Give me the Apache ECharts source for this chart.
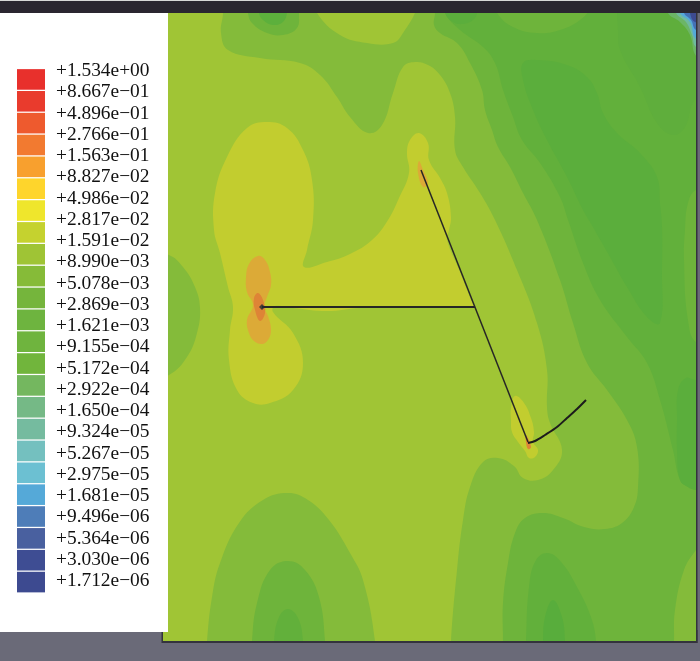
<!DOCTYPE html>
<html><head><meta charset="utf-8">
<style>html,body{margin:0;padding:0;background:#6a6a78}#c{width:700px;height:661px}</style>
<script src="https://cdn.jsdelivr.net/npm/echarts@6/dist/echarts.min.js"></script>
</head><body><div id="c"></div>
<script>
const legendLabels = ['+1.534e+00','+8.667e\u221201','+4.896e\u221201','+2.766e\u221201','+1.563e\u221201','+8.827e\u221202','+4.986e\u221202','+2.817e\u221202','+1.591e\u221202','+8.990e\u221203','+5.078e\u221203','+2.869e\u221203','+1.621e\u221203','+9.155e\u221204','+5.172e\u221204','+2.922e\u221204','+1.650e\u221204','+9.324e\u221205','+5.267e\u221205','+2.975e\u221205','+1.681e\u221205','+9.496e\u221206','+5.364e\u221206','+3.030e\u221206','+1.712e\u221206'];
const legendColors = ['#e8302c','#e93b2d','#ee5a2e','#f27a30','#f8a02e','#fed52c','#efe62c','#c5d22f','#9fc435','#86bb38','#75b53c','#6eb43f','#6fb43e','#71b53c','#74b75f','#75b986','#75bb9f','#74c0bf','#6cc0d2','#55a9d8','#4e7db8','#49609f','#3e4d93','#3d4a90'];

const C9='#a0c535', C10='#84bb3a', C11='#6eb43b', C12='#62b03b', C13='#5bae3c';
const CY='#c2cd2f', CO='#dcaa37', CR='#de8436';

const base = [[100,-100],[800,-100],[800,800],[100,800]];
const band10Main = [[222,-10],[223,13],[221,33],[228,50],[260,58],[300,63],[320,75],[337,97],[350,117],[368,133],[382,125],[393,93],[403,67],[415,62],[428,65],[440,75],[450,93],[455,117],[455,150],[463,167],[480,193],[495,220],[517,270],[537,323],[547,370],[547,407],[550,423],[562,450],[553,470],[538,480],[523,478],[514,466],[498,458],[483,462],[470,487],[463,520],[457,570],[451,641],[450,680],[760,700],[760,-60]];
const topBay = [[313,-5],[317,13],[340,35],[367,43],[393,43],[403,33],[417,8],[420,-10]];
const band10Left = [[120,240],[169,255],[183,267],[195,287],[200,308],[197,333],[187,357],[169,375],[120,395]];
const band10Bottom = [[205,680],[207,641],[212,597],[220,563],[239,523],[263,500],[288,493],[308,500],[329,520],[350,553],[363,580],[375,641],[376,680]];
const band11Main = [[434,-10],[435,13],[434,25],[440,33],[457,43],[470,63],[482,90],[485,110],[492,130],[498,147],[510,167],[523,193],[537,220],[560,280],[573,323],[587,363],[607,390],[627,420],[637,447],[638,487],[634,507],[622,523],[605,529],[584,527],[563,518],[543,513],[525,518],[515,533],[508,563],[503,603],[503,641],[503,680],[760,700],[760,-60]];
const band11Top = [[247,-5],[248,13],[252,23],[267,33],[283,35],[297,28],[299,13],[299,-5]];
const band11Bottom = [[251,680],[252,641],[257,603],[270,570],[288,561],[305,570],[319,597],[325,641],[326,680]];
const band12Main = [[440,-10],[445,13],[460,30],[483,47],[495,63],[503,90],[513,117],[522,140],[540,163],[560,197],[568,220],[583,263],[600,300],[627,337],[647,363],[660,400],[673,450],[680,480],[688,487],[696,490],[740,495],[760,-60]];
const band11Bay = [[490,-5],[497,13],[513,27],[537,33],[560,30],[580,20],[590,8],[592,-8]];
const band11Right = [[740,170],[696,190],[688,203],[685,230],[684,260],[688,320],[697,343],[740,360]];
const band10Corner = [[673,680],[674,641],[675,610],[684,570],[696,550],[720,520],[760,680]];
const band12Top = [[258,-5],[259,13],[263,20],[273,25],[283,22],[287,13],[288,-5]];
const band12Bottom = [[273,680],[274,641],[279,617],[288,609],[298,618],[303,641],[304,680]];
const band12Right = [[525,680],[526,641],[529,587],[536,560],[548,553],[562,563],[577,587],[591,617],[596,641],[597,680]];
const band13Top = [[442,-5],[445,13],[453,22],[463,24],[473,20],[477,13],[478,-5]];
const band13Center = [[523,63],[537,60],[567,65],[587,77],[597,93],[603,113],[617,133],[640,153],[657,177],[660,203],[662,227],[662,270],[660,323],[647,317],[627,287],[610,257],[590,222],[583,210],[567,177],[547,140],[533,110],[523,80]];
const band13Right = [[616,-5],[617,13],[618,30],[620,50],[640,87],[657,123],[673,135],[685,127],[695,100],[740,60],[740,-5]];
const band13Edge = [[740,370],[696,380],[686,378],[678,390],[677,420],[677,450],[680,480],[688,487],[696,490],[740,495]];
const band13Bottom = [[542,680],[543,641],[545,617],[553,600],[562,617],[565,641],[566,680]];
const corner1 = [[664,-5],[668,13],[680,22],[690,35],[696,56],[720,80],[730,-20]];
const corner2 = [[673,-5],[676,13],[686,22],[692,35],[696,47],[720,60],[730,-20]];
const corner3 = [[677,-5],[680,13],[690,22],[696,39],[720,50],[730,-20]];
const corner4 = [[680,-5],[684,13],[691,20],[696,30],[720,40],[730,-20]];
const corner5 = [[688,-5],[690,13],[695,22],[720,30],[730,-20]];
const yellowMain = [[267,122],[287,128],[303,150],[312,180],[313,220],[307,250],[304,267],[327,262],[350,254],[372,240],[388,220],[399,198],[409,173],[407,153],[410,140],[419,133],[428,143],[429,160],[440,178],[447,193],[451,217],[449,230],[447,240],[460,272],[472,302],[475,307],[470,307],[400,307],[360,308],[327,311],[293,308],[275,306],[273,312],[293,333],[303,363],[293,390],[270,403],[253,403],[237,390],[229,360],[230,330],[233,307],[228,287],[220,253],[214,230],[215,193],[227,157],[247,128]];
const yellowTip = [[515,396],[524,403],[531,418],[534,432],[533,442],[538,450],[535,457],[529,458],[525,451],[518,442],[512,432],[511,420],[511,408]];
const orangeLeft = [[258,256],[265,260],[270,272],[271,285],[267,297],[264,307],[268,316],[271,330],[268,340],[262,344],[254,341],[249,333],[247,320],[253,305],[247,292],[246,278],[249,264]];
const orangeInner = [[258,293],[263,300],[265,313],[260,321],[255,310],[254,298]];
const orangeTop = [[419,161],[423,170],[428,183],[423,187],[418,173]];
const orangeTip = [[526,435],[531,447],[528,449],[526,442]];

const layers = [
  [base,C9],[band10Main,C10],[topBay,C9],[band10Left,C10],[band10Bottom,C10],
  [band11Main,C11],[band11Top,C11],[band11Bottom,C11],
  [band12Main,C12],[band11Bay,C11],[band11Right,C11],[band10Corner,C10],
  [band12Top,'#5cb03c'],[band12Bottom,C12],[band12Right,C12],
  [band13Top,C13],[band13Center,C13],[band13Right,'#5fae3c'],[band13Edge,C13],[band13Bottom,'#58ad3c'],
  [corner1,'#6cb566'],[corner2,'#6fb9a0'],[corner3,'#55a9d8'],[corner4,'#4470b4'],[corner5,'#3d4a90'],
  [yellowMain,CY],[yellowTip,CY],[orangeLeft,CO],[orangeInner,CR],[orangeTop,CO],[orangeTip,CR]
];

const crackA = [[262,307],[475,307]];
const crackB = [[421,170],[528,442]];
const crackC = [[528,443],[535,441],[545,435],[557,427],[567,418],[577,409],[586,400]];
const crackNode = [[262,307]];

const chart = echarts.init(document.getElementById('c'), null, {renderer:'canvas'});
chart.setOption({
  animation:false,
  backgroundColor:'#6a6a78',
  graphic:{elements:[
    {type:'rect',z:0,shape:{x:0,y:0,width:700,height:13},style:{fill:'#2a2630'}},
    {type:'rect',z:0,shape:{x:0,y:0,width:700,height:1},style:{fill:'#d8d8d8'}},
    {type:'rect',z:0,shape:{x:161.5,y:630,width:536,height:13},style:{fill:'#33333c'}},
    {type:'rect',z:0,shape:{x:696,y:13,width:1.5,height:630},style:{fill:'#33333c'}},
    {type:'rect',z:5,shape:{x:0,y:13,width:168,height:619},style:{fill:'#ffffff'}}
  ]},
  grid:[
    {left:163,top:13,width:533,height:628},
    {left:17,top:68.5,width:28,height:524.5,z:10},
    {left:52,top:71,width:110,height:510,z:10}
  ],
  xAxis:[
    {gridIndex:0,type:'value',min:163,max:696,show:false},
    {gridIndex:1,type:'value',min:0,max:1,show:false},
    {gridIndex:2,type:'value',min:0,max:1,show:false}
  ],
  yAxis:[
    {gridIndex:0,type:'value',min:13,max:641,inverse:true,show:false},
    {gridIndex:1,type:'category',inverse:true,show:false,data:legendColors.map((c,i)=>i)},
    {gridIndex:2,type:'category',inverse:true,boundaryGap:false,z:10,data:legendLabels,
     axisLine:{show:false},axisTick:{show:false},
     axisLabel:{inside:true,interval:0,margin:4,align:'left',fontFamily:'Liberation Serif',fontSize:19.4,color:'#111111'}}
  ],
  series:[
    {type:'custom',xAxisIndex:0,yAxisIndex:0,z:1,clip:true,silent:true,
     data:layers.map((l,i)=>[i]),
     encode:{x:[],y:[]},
     renderItem:function(params,api){
       const l=layers[params.dataIndex];
       return {type:'polygon',
         shape:{points:l[0].map(p=>api.coord(p)),smooth:0.42},
         style:{fill:l[1],stroke:null}};
     }},
    {type:'line',xAxisIndex:0,yAxisIndex:0,z:2,data:crackA,showSymbol:false,lineStyle:{color:'#262626',width:2}},
    {type:'line',xAxisIndex:0,yAxisIndex:0,z:2,data:crackB,showSymbol:false,lineStyle:{color:'#262626',width:1.5}},
    {type:'line',xAxisIndex:0,yAxisIndex:0,z:2,data:crackC,smooth:0.3,showSymbol:false,lineStyle:{color:'#1c1c1c',width:2}},
    {type:'scatter',xAxisIndex:0,yAxisIndex:0,z:3,data:crackNode,symbol:'diamond',symbolSize:6,itemStyle:{color:'#1f2a33'}},
    {type:'bar',xAxisIndex:1,yAxisIndex:1,z:10,barWidth:20.6,
     data:legendColors.map(c=>({value:1,itemStyle:{color:c}}))}
  ]
});
</script></body></html>
